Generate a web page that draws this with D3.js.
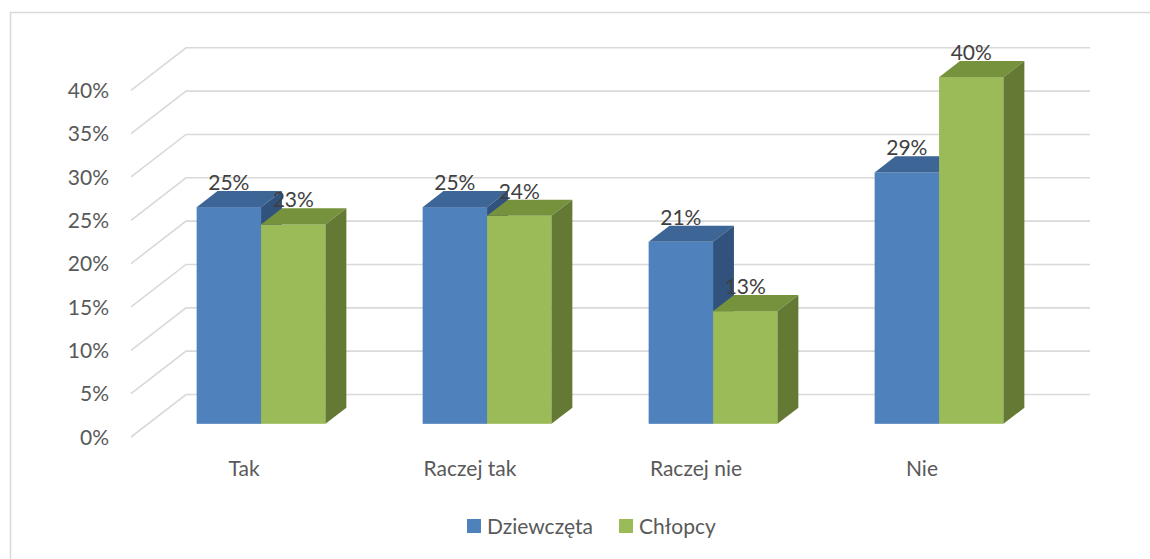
<!DOCTYPE html>
<html>
<head>
<meta charset="utf-8">
<script src="https://cdn.jsdelivr.net/npm/d3@7"></script>
<style>
  body { margin: 0; background: #fff; }
  text { font-family: Lato, "Open Sans", sans-serif; }
</style>
</head>
<body>
<div id="chart"></div>
<script>
var categories = ["Tak", "Raczej tak", "Raczej nie", "Nie"];
var seriesNames = ["Dziewczęta", "Chłopcy"];
var girls = [0.25, 0.25, 0.21, 0.29];
var boys = [0.23, 0.24, 0.13, 0.40];
var yTicks = [0, 0.05, 0.10, 0.15, 0.20, 0.25, 0.30, 0.35, 0.40];

var colors = {
    front: ["#4F81BD", "#9BBB59"],
    top: ["#3D6596", "#77923C"],
    side: ["#32527E", "#647A34"]
};

var width = 1150, height = 559;

// 3D depth offsets (full depth of the floor)
var depthX = 55, depthY = -42.5;
var z0 = 0.31, z1 = 0.69;   // bar front / back depth

var svg = d3.select("#chart")
    .append("svg")
    .attr("width", width)
    .attr("height", height);

// outer chart border
svg.append("rect")
    .attr("x", 10.5).attr("y", 12.5)
    .attr("width", 1200).attr("height", 600)
    .attr("fill", "none")
    .attr("stroke", "#D9D9D9")
    .attr("stroke-width", 1.5);

var x0 = d3.scaleBand()
    .domain(categories)
    .range([131, 1035])
    .paddingInner(0.43)
    .paddingOuter(0.215);

var x1 = d3.scaleBand()
    .domain(seriesNames)
    .range([0, x0.bandwidth()]);

var y = d3.scaleLinear()
    .domain([0, 0.40])
    .range([437, 437 - 346.7]);

var fmt = d3.format(".0%");

// gridlines: floor diagonal + back wall line
var grid = svg.append("g");
yTicks.forEach(function (t) {
    var yf = y(t);
    grid.append("path")
        .attr("d", "M" + 131 + "," + yf +
            "L" + (131 + depthX) + "," + (yf + depthY) +
            "H" + (x0.range()[1] + depthX))
        .attr("fill", "none")
        .attr("stroke", "#D9D9D9")
        .attr("stroke-width", 1.6);
    grid.append("text")
        .attr("x", 109)
        .attr("y", yf)
        .attr("dy", "0.36em")
        .attr("text-anchor", "end")
        .attr("font-size", 21)
        .attr("fill", "#595959")
        .text(fmt(t));
});

// bars
var data = [girls, boys];
var ax = depthX * z0, ay = depthY * z0;
var bx = depthX * (z1 - z0), by = depthY * (z1 - z0);
var bars = svg.append("g");

categories.forEach(function (c, i) {
    seriesNames.forEach(function (s, k) {
        var v = data[k][i];
        var left = x0(c) + x1(s) + ax;
        var right = left + x1.bandwidth();
        var top = y(v) + ay;
        var bottom = y(0) + ay;
        var g = bars.append("g");
        // front face
        g.append("rect")
            .attr("x", left).attr("y", top)
            .attr("width", right - left).attr("height", bottom - top)
            .attr("fill", colors.front[k]);
        // top face
        g.append("path")
            .attr("d", "M" + left + "," + top + "L" + (left + bx) + "," + (top + by) +
                "L" + (right + bx) + "," + (top + by) + "L" + right + "," + top + "Z")
            .attr("fill", colors.top[k]);
        // side face
        g.append("path")
            .attr("d", "M" + right + "," + top + "L" + (right + bx) + "," + (top + by) +
                "L" + (right + bx) + "," + (bottom + by) + "L" + right + "," + bottom + "Z")
            .attr("fill", colors.side[k]);
    });
});

// data labels
categories.forEach(function (c, i) {
    seriesNames.forEach(function (s, k) {
        var v = data[k][i];
        var cx = x0(c) + x1(s) + ax + x1.bandwidth() / 2;
        svg.append("text")
            .attr("x", cx)
            .attr("y", y(v) + ay + by - 1)
            .attr("text-anchor", "middle")
            .attr("font-size", 21)
            .attr("fill", "#404040")
            .text(fmt(v));
    });
});

// category labels
categories.forEach(function (c) {
    svg.append("text")
        .attr("x", x0(c) + x0.bandwidth() / 2)
        .attr("y", 468)
        .attr("dy", "0.36em")
        .attr("text-anchor", "middle")
        .attr("font-size", 21)
        .attr("fill", "#595959")
        .text(c);
});

// legend
var legendX = [467, 619];
seriesNames.forEach(function (s, k) {
    svg.append("rect")
        .attr("x", legendX[k]).attr("y", 519)
        .attr("width", 14).attr("height", 14)
        .attr("fill", colors.front[k]);
    svg.append("text")
        .attr("x", legendX[k] + 20)
        .attr("y", 526)
        .attr("dy", "0.36em")
        .attr("font-size", 21)
        .attr("fill", "#595959")
        .text(s);
});
</script>
</body>
</html>
